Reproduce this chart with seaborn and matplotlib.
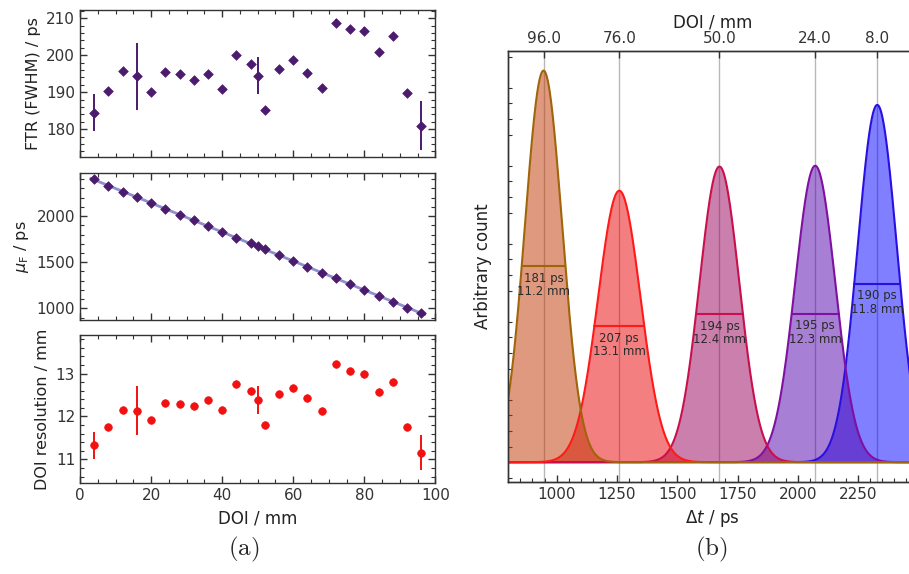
import numpy as np
import matplotlib
matplotlib.use("Agg")
import matplotlib.pyplot as plt
import seaborn as sns
from matplotlib.ticker import MultipleLocator, FixedLocator

# ---------------- data ----------------
doi = [4, 8, 12, 16, 20, 24, 28, 32, 36, 40, 44, 48, 50, 52, 56, 60, 64, 68, 72, 76, 80, 84, 88, 92, 96]
ftr = [184.5, 190.4, 195.6, 194.3, 190.0, 195.4, 195.0, 193.3, 195.0, 190.8, 200.1, 197.6, 194.4,
       185.2, 196.4, 198.8, 195.3, 191.1, 208.8, 207.0, 206.6, 201.0, 205.3, 189.7, 181.0]
ftr_err = [5.0, 0.8, 0.8, 9.0, 0.8, 0.8, 0.8, 0.8, 0.8, 0.8, 0.8, 0.8, 5.0,
           0.8, 0.8, 0.8, 0.8, 0.8, 1.0, 0.8, 0.9, 0.8, 0.8, 0.8, 6.7]
mu = [2400, 2329, 2263, 2209, 2137, 2072, 2014, 1953, 1888, 1823, 1762, 1704, 1675,
      1646, 1578, 1516, 1451, 1386, 1325, 1260, 1199, 1134, 1072, 1004, 946]
res = [11.33, 11.75, 12.15, 12.13, 11.91, 12.32, 12.30, 12.25, 12.39, 12.14, 12.75, 12.59, 12.39,
       11.80, 12.52, 12.66, 12.43, 12.12, 13.23, 13.06, 13.00, 12.58, 12.80, 11.75, 11.16]
res_err = [0.31, 0.05, 0.05, 0.57, 0.05, 0.05, 0.05, 0.05, 0.05, 0.05, 0.05, 0.05, 0.33,
           0.05, 0.05, 0.05, 0.05, 0.05, 0.06, 0.05, 0.06, 0.05, 0.05, 0.05, 0.41]

# right panel: selected DOI positions (draw order), peak heights (arbitrary units)
sel_doi = [8, 24, 50, 76, 96]
peak_amp = [4.58, 3.80, 3.79, 3.48, 5.02]
fill_cols = ["#0000ff", "#5100ad", "#99005b", "#e90005", "#c13500"]
edge_cols = ["#2a10e0", "#7f10a0", "#c8104c", "#ff1a1a", "#a0650a"]
top_ticks_order = [96, 76, 50, 24, 8]

# ---------------- style ----------------
sns.set_theme(style="ticks")
plt.rcParams.update({
    "font.family": ["DejaVu Sans"],
    "font.size": 11,
    "axes.labelsize": 11.5,
    "xtick.labelsize": 11,
    "ytick.labelsize": 11,
    "axes.edgecolor": "#333333",
    "axes.linewidth": 1.0,
    "xtick.color": "#333333",
    "ytick.color": "#333333",
    "axes.labelcolor": "#222222",
    "mathtext.fontset": "dejavusans",
})

fig = plt.figure(figsize=(9.09, 5.74), dpi=100)

purple = "#4b1c6e"
red = "#f21010"

def style_left(ax, ymaj, ymin):
    ax.set_xlim(0, 100)
    ax.xaxis.set_major_locator(MultipleLocator(20))
    ax.xaxis.set_minor_locator(MultipleLocator(5))
    ax.yaxis.set_major_locator(MultipleLocator(ymaj))
    ax.yaxis.set_minor_locator(MultipleLocator(ymin))
    ax.tick_params(which="both", direction="in", top=True, right=True)
    ax.tick_params(which="major", length=5, width=1)
    ax.tick_params(which="minor", length=3, width=0.8)

# --- top left: FTR
ax1 = fig.add_axes([0.088, 0.7265, 0.391, 0.256])
ax1.errorbar(doi, ftr, yerr=ftr_err, fmt="none", ecolor=purple, elinewidth=1.4, capsize=0, zorder=2)
sns.scatterplot(x=doi, y=ftr, marker="D", s=24, color=purple, edgecolor=purple, linewidth=0.5, ax=ax1, zorder=3)
style_left(ax1, 10, 2)
ax1.set_ylim(172.5, 212.2)
ax1.set_xticklabels([])
ax1.set_ylabel("FTR (FWHM) / ps")

# --- middle left: mu_F
ax2 = fig.add_axes([0.088, 0.4425, 0.391, 0.2566])
coef = np.polyfit(doi, mu, 1)
xf = np.array([doi[0] - 1, doi[-1] + 1])
sns.lineplot(x=xf, y=np.polyval(coef, xf), color="#7b7bc8", lw=2.0, alpha=0.85, ax=ax2, zorder=2)
sns.scatterplot(x=doi, y=mu, marker="D", s=24, color=purple, edgecolor=purple, linewidth=0.5, ax=ax2, zorder=3)
style_left(ax2, 500, 100)
ax2.set_ylim(873, 2470)
ax2.set_xticklabels([])
ax2.set_ylabel(r"$\mu_\mathrm{F}$ / ps")

# --- bottom left: DOI resolution
ax3 = fig.add_axes([0.088, 0.1585, 0.391, 0.258])
ax3.errorbar(doi, res, yerr=res_err, fmt="none", ecolor=red, elinewidth=1.4, capsize=0, zorder=2)
sns.scatterplot(x=doi, y=res, marker="o", s=30, color=red, edgecolor=red, linewidth=0.5, ax=ax3, zorder=3)
style_left(ax3, 1, 0.2)
ax3.set_ylim(10.45, 13.9)
ax3.set_xlabel("DOI / mm", fontsize=12, labelpad=5)
ax3.set_ylabel("DOI resolution / mm")

# --- right panel
axr = fig.add_axes([0.5592, 0.160, 0.4486, 0.751])
xs = np.linspace(800, 2490, 1200)
for d in sel_doi:
    axr.axvline(mu[doi.index(d)], color="#b8b8b8", lw=1.0, zorder=0.5)
for d, amp, fc, ec in zip(sel_doi, peak_amp, fill_cols, edge_cols):
    i = doi.index(d)
    m, fw = mu[i], ftr[i]
    sig = fw / (2 * np.sqrt(2 * np.log(2)))
    ys = amp * np.exp(-0.5 * ((xs - m) / sig) ** 2)
    axr.fill_between(xs, ys, 0, color=fc, alpha=0.5, lw=0, zorder=1)
    sns.lineplot(x=xs, y=ys, color=ec, lw=1.5, ax=axr, zorder=2)
    axr.plot([m - fw / 2, m + fw / 2], [amp / 2, amp / 2], color=ec, lw=1.5, zorder=2)
    axr.text(m, amp / 2 - 0.07, f"{fw:.0f} ps\n{res[i]:.1f} mm", ha="center", va="top",
             fontsize=8.5, color="#2a2a2a", linespacing=1.05, zorder=3)

axr.set_xlim(800, 2490)
axr.set_ylim(-0.256, 5.27)
axr.xaxis.set_major_locator(MultipleLocator(250))
axr.xaxis.set_minor_locator(MultipleLocator(50))
axr.yaxis.set_major_locator(MultipleLocator(1))
axr.yaxis.set_minor_locator(MultipleLocator(0.2))
axr.set_yticklabels([])
axr.tick_params(which="both", direction="in", top=False, right=False)
axr.tick_params(axis="x", which="major", length=5, width=1)
axr.tick_params(axis="x", which="minor", length=3, width=0.8)
axr.tick_params(axis="y", which="major", length=0)
axr.tick_params(axis="y", which="minor", length=3, width=0.8)
axr.set_xlabel(r"$\Delta t$ / ps", fontsize=12, labelpad=4)
axr.set_ylabel("Arbitrary count", fontsize=12, labelpad=8)
axr.spines["right"].set_visible(False)

axt = axr.twiny()
axt.set_xlim(axr.get_xlim())
axt.xaxis.set_major_locator(FixedLocator([mu[doi.index(d)] for d in top_ticks_order]))
axt.set_xticklabels([f"{d:.1f}" for d in top_ticks_order])
axt.tick_params(which="both", direction="in", length=5, width=1)
axt.set_xlabel("DOI / mm", fontsize=12, labelpad=3)
axt.spines["right"].set_visible(False)

# sub-figure labels
fig.text(0.268, 0.043, r"$\mathrm{(a)}$", fontsize=18, ha="center", va="center", math_fontfamily="cm")
fig.text(0.783, 0.043, r"$\mathrm{(b)}$", fontsize=18, ha="center", va="center", math_fontfamily="cm")

fig.savefig("out.png", dpi=100)
